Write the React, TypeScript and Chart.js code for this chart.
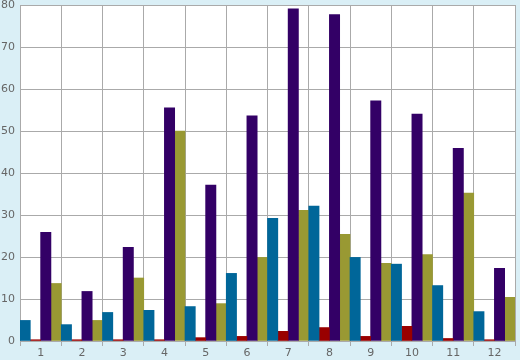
import React, { useEffect, useRef } from "react";
import { Chart, registerables } from "chart.js";

Chart.register(...registerables);

const categories = ["1", "2", "3", "4", "5", "6", "7", "8", "9", "10", "11", "12"];
const blueValues = [4.9, 3.9, 6.8, 7.3, 8.2, 16.1, 29.2, 32.1, 19.9, 18.3, 13.2, 7.0];
const redValues = [0.3, 0.3, 0.3, 0.3, 0.8, 1.1, 2.3, 3.2, 1.1, 3.5, 0.6, 0.3];
const purpleValues = [25.9, 11.8, 22.3, 55.5, 37.1, 53.6, 79.1, 77.7, 57.2, 54.0, 45.9, 17.3];
const oliveValues = [13.7, 4.9, 15.0, 50.0, 8.9, 19.9, 31.1, 25.4, 18.5, 20.6, 35.2, 10.4];
const yMin = 0;
const yMax = 80;
const yStep = 10;

const bgPlugin = {
  id: "bgPlugin",
  beforeDraw(chart: any) {
    const { ctx, chartArea, width, height } = chart;
    ctx.save();
    ctx.fillStyle = "#daeff6";
    ctx.fillRect(0, 0, width, height);
    ctx.fillStyle = "#ffffff";
    ctx.fillRect(chartArea.left, chartArea.top, chartArea.right - chartArea.left, chartArea.bottom - chartArea.top);
    ctx.restore();
  },
};

export default function App() {
  const ref = useRef<HTMLCanvasElement | null>(null);
  useEffect(() => {
    document.body.style.margin = "0";
    const canvas = ref.current!;
    const chart = new Chart(canvas, {
      type: "bar",
      data: {
        labels: categories,
        datasets: [
          { data: blueValues, backgroundColor: "#006699" },
          { data: redValues, backgroundColor: "#990000" },
          { data: purpleValues, backgroundColor: "#330066" },
          { data: oliveValues, backgroundColor: "#999933" },
        ],
      },
      options: {
        responsive: false,
        animation: false,
        devicePixelRatio: 1,
        layout: { padding: { top: 0, right: 5, left: 0, bottom: 0 } },
        datasets: { bar: { categoryPercentage: 1, barPercentage: 1, borderWidth: 0 } },
        plugins: { legend: { display: false }, tooltip: { enabled: false } },
        scales: {
          x: {
            offset: true,
            grid: { offset: true, color: "#aaaaaa", lineWidth: 1, drawTicks: true, tickLength: 5 },
            border: { color: "#aaaaaa" },
            ticks: { color: "#666666", font: { family: "DejaVu Sans", size: 11 }, padding: 1, maxRotation: 0 },
            afterFit: (s: any) => { s.height = 19; },
          },
          y: {
            min: yMin,
            max: yMax,
            grid: { color: "#aaaaaa", lineWidth: 1, drawTicks: false },
            border: { color: "#aaaaaa" },
            ticks: { stepSize: yStep, color: "#666666", font: { family: "DejaVu Sans", size: 11 }, padding: 5 },
            afterFit: (s: any) => { s.width = 20; s.paddingTop = 5; },
          },
        },
      },
      plugins: [bgPlugin],
    } as any);
    return () => chart.destroy();
  }, []);
  return <canvas ref={ref} width={520} height={360} style={{ display: "block" }} />;
}
